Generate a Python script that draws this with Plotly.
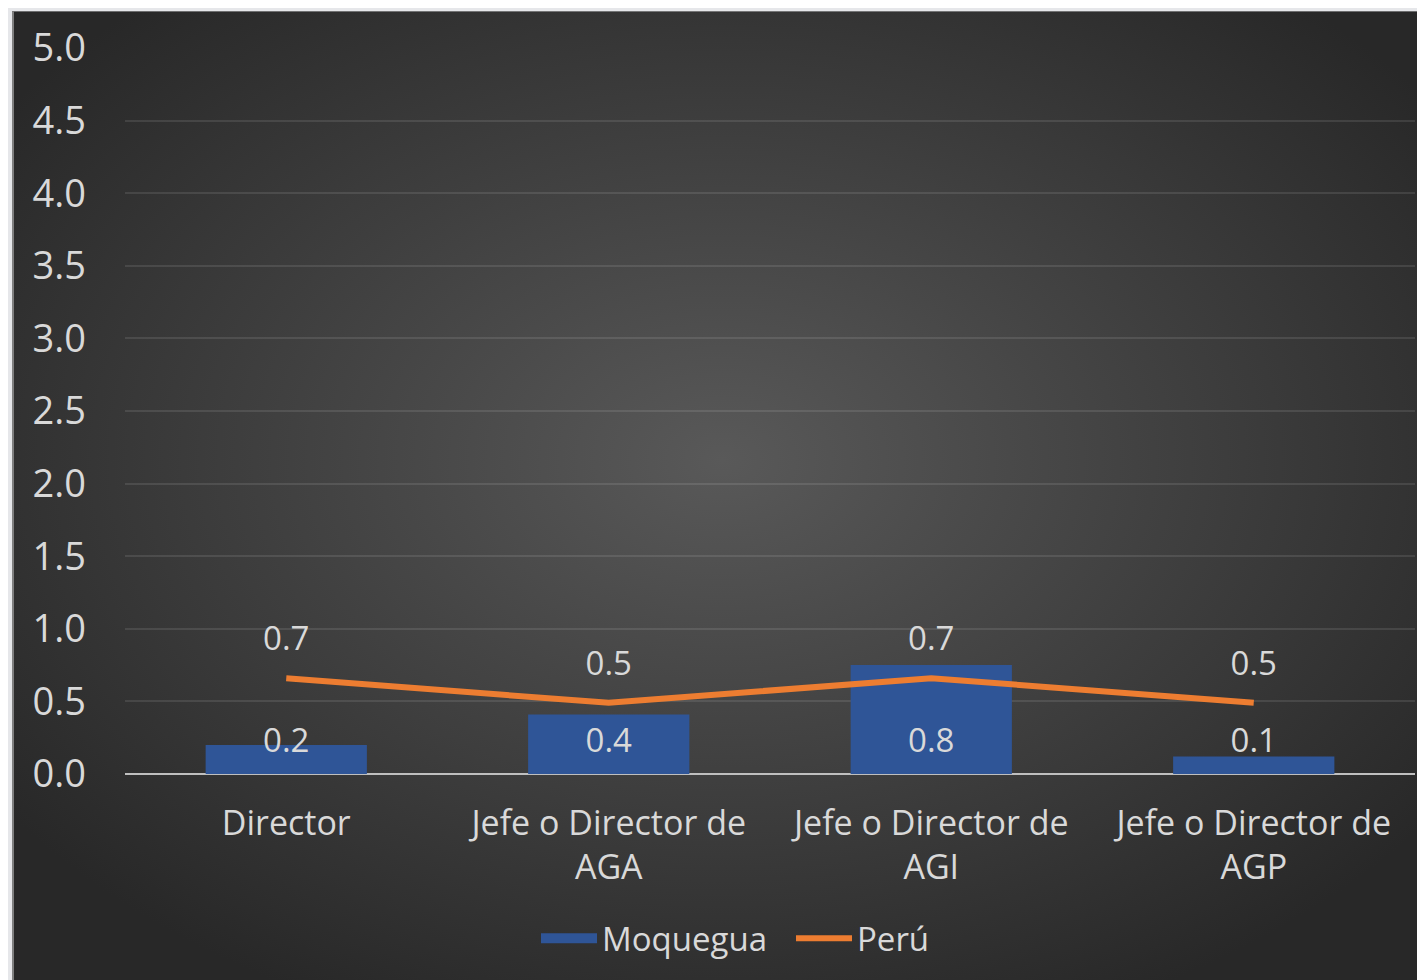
import base64
import plotly.graph_objects as go

# datos
categorias = ["Director", "Jefe o Director de<br>AGA", "Jefe o Director de<br>AGI", "Jefe o Director de<br>AGP"]
moquegua = [0.20, 0.41, 0.75, 0.12]
peru = [0.66, 0.49, 0.66, 0.49]
y_ticks = [0, 0.5, 1.0, 1.5, 2.0, 2.5, 3.0, 3.5, 4.0, 4.5, 5.0]

FONT = "Open Sans"
TXT = "#d9d9d9"
AZUL = "#2f5597"
NARANJA = "#ed7d31"

# fondo con degradado radial (como el grafico de Excel)
svg = """<svg xmlns='http://www.w3.org/2000/svg' width='1421' height='980' preserveAspectRatio='none'>
<defs><radialGradient id='g' cx='50%' cy='46%' r='62%'>
<stop offset='0%' stop-color='#595959'/><stop offset='100%' stop-color='#282828'/>
</radialGradient></defs>
<rect width='1421' height='980' fill='url(#g)'/>
<line x1='1' y1='0' x2='1' y2='980' stroke='#808080' stroke-width='2'/></svg>"""
bg = "data:image/svg+xml;base64," + base64.b64encode(svg.encode()).decode()

# margenes (la pagina agrega 8px de margen)
ML, MR, MT, MB = 117, 18, 37, 214
PW, PH = 1425 - ML - MR, 980 - MT - MB

fig = go.Figure()

fig.add_trace(go.Bar(
    x=categorias, y=moquegua, name="Moquegua",
    marker=dict(color=AZUL, line=dict(width=0)),
    width=0.5, showlegend=False,
))

# etiquetas de las barras en la base (como "extremo interno" de Excel)
fig.add_trace(go.Scatter(
    x=categorias, y=[0 for _ in moquegua],
    mode="markers+text", showlegend=False, hoverinfo="skip",
    marker=dict(size=20, color="rgba(0,0,0,0)"),
    text=[f"{v:.1f}" for v in moquegua],
    textposition="top center",
    textfont=dict(family=FONT, size=33, color=TXT),
    cliponaxis=False,
))

fig.add_trace(go.Scatter(
    x=categorias, y=peru, name="Perú", showlegend=False,
    mode="lines+markers+text",
    line=dict(color=NARANJA, width=6),
    marker=dict(size=30, color="rgba(0,0,0,0)"),
    text=[f"{v:.1f}" for v in peru],
    textposition="top center",
    textfont=dict(family=FONT, size=33, color=TXT),
))

# entradas de leyenda
fig.add_trace(go.Scatter(x=[None], y=[None], mode="lines", name="Moquegua",
                         line=dict(color=AZUL, width=20)))
fig.add_trace(go.Scatter(x=[None], y=[None], mode="lines", name="Perú",
                         line=dict(color=NARANJA, width=6)))

fig.update_layout(
    width=1425, height=980,
    margin=dict(l=ML, r=MR, t=MT, b=MB),
    paper_bgcolor="#e6e7ea",
    plot_bgcolor="rgba(0,0,0,0)",
    font=dict(family=FONT, color=TXT, size=33),
    legend=dict(orientation="h", x=(783 - ML) / PW, xanchor="center",
                y=(766 - 931) / PH, yanchor="middle",
                font=dict(family=FONT, size=33, color=TXT), bgcolor="rgba(0,0,0,0)",
                traceorder="normal", itemwidth=56, entrywidth=184),
    images=[dict(source=bg, xref="paper", yref="paper",
                 x=(4 - ML) / PW, y=(766 - 0) / PH,
                 sizex=1421 / PW, sizey=980 / PH,
                 xanchor="left", yanchor="top", sizing="stretch", layer="below")],
)

fig.update_yaxes(
    range=[0, 5.0], tickvals=y_ticks, tickformat=".1f",
    showgrid=True, gridcolor="rgba(255,255,255,0.10)", gridwidth=2,
    zeroline=True, zerolinecolor="#bfbfbf", zerolinewidth=2,
    showline=False, ticks="", ticklabelstandoff=38,
    tickfont=dict(family=FONT, size=38, color=TXT),
)
fig.update_xaxes(
    showgrid=False, showline=False, ticks="",
    tickfont=dict(family=FONT, size=34, color=TXT),
    ticklabelstandoff=26,
)

fig.write_html("out.html")
